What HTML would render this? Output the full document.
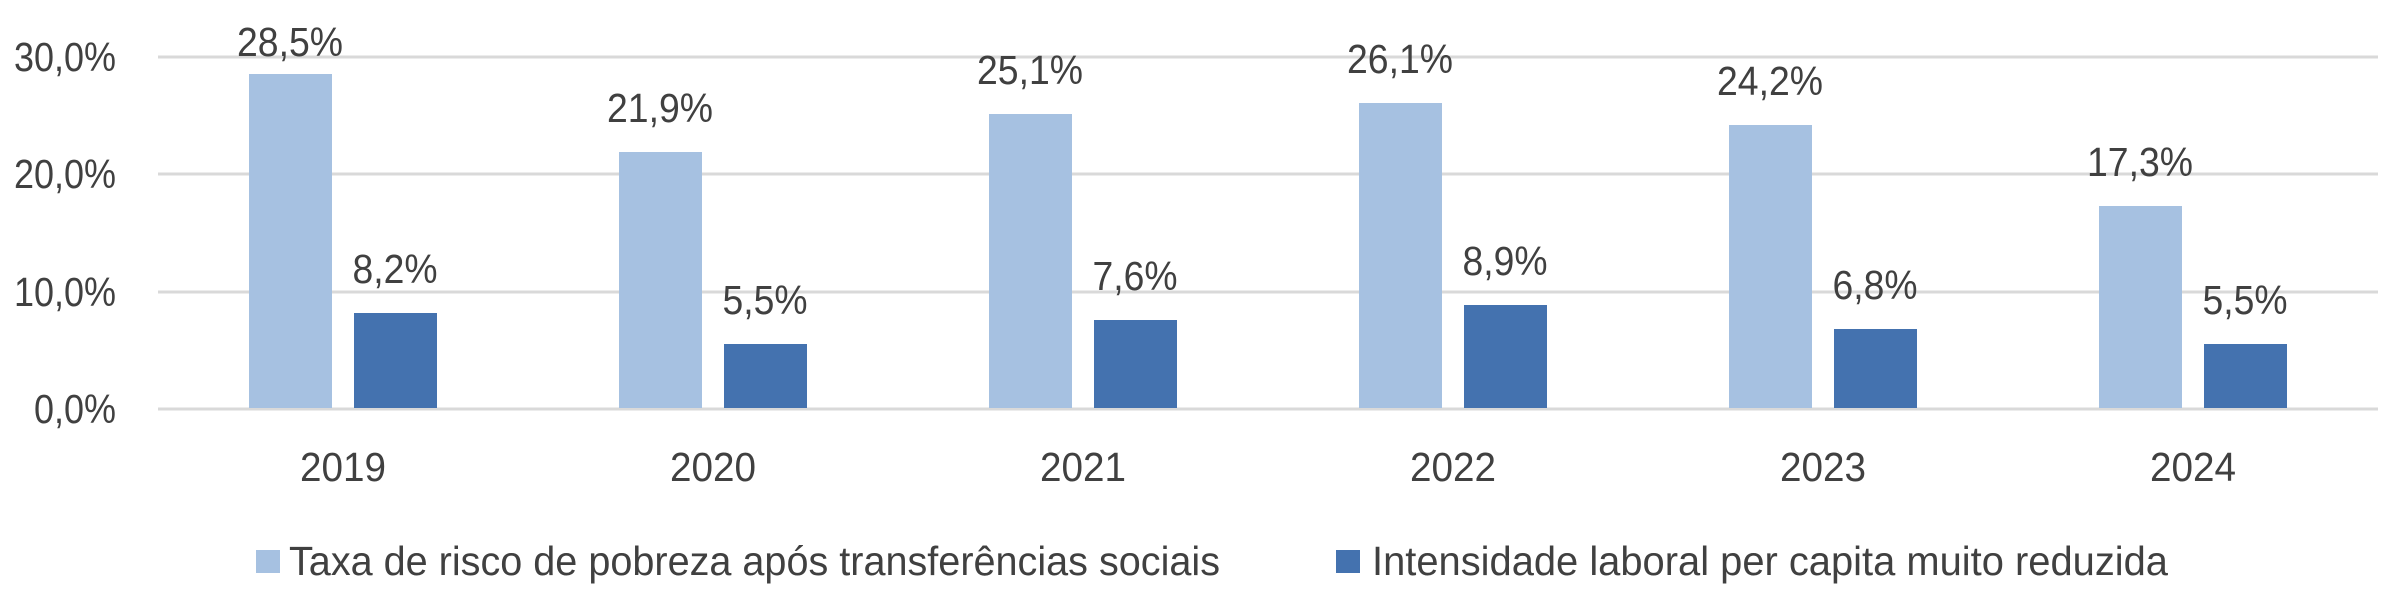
<!DOCTYPE html>
<html><head><meta charset="utf-8"><style>
html,body{margin:0;padding:0;background:#fff;}
svg{display:block;}
text{font-family:"Liberation Sans Narrow","Liberation Sans",sans-serif;fill:#404040;font-size:41px;}
</style></head><body>
<svg width="2400" height="600" viewBox="0 0 2400 600" xmlns="http://www.w3.org/2000/svg">
<g stroke="#D9D9D9" stroke-width="3">
<line x1="158" y1="57" x2="2378" y2="57"/>
<line x1="158" y1="174" x2="2378" y2="174"/>
<line x1="158" y1="292" x2="2378" y2="292"/>
<line x1="158" y1="409" x2="2378" y2="409"/>
</g>
<g text-anchor="end">
<text x="116" y="71" textLength="102" lengthAdjust="spacingAndGlyphs">30,0%</text>
<text x="116" y="188" textLength="102" lengthAdjust="spacingAndGlyphs">20,0%</text>
<text x="116" y="306" textLength="102" lengthAdjust="spacingAndGlyphs">10,0%</text>
<text x="116" y="423" textLength="82" lengthAdjust="spacingAndGlyphs">0,0%</text>
</g>
<g fill="#A6C1E1">
<rect x="249" y="74" width="83" height="334"/>
<rect x="619" y="152" width="83" height="256"/>
<rect x="989" y="114" width="83" height="294"/>
<rect x="1359" y="103" width="83" height="305"/>
<rect x="1729" y="125" width="83" height="283"/>
<rect x="2099" y="206" width="83" height="202"/>
</g>
<g fill="#4472AF">
<rect x="354" y="313" width="83" height="95"/>
<rect x="724" y="344" width="83" height="64"/>
<rect x="1094" y="320" width="83" height="88"/>
<rect x="1464" y="305" width="83" height="103"/>
<rect x="1834" y="329" width="83" height="79"/>
<rect x="2204" y="344" width="83" height="64"/>
</g>
<g text-anchor="middle">
<text x="290" y="56" textLength="106" lengthAdjust="spacingAndGlyphs">28,5%</text>
<text x="660" y="122" textLength="106" lengthAdjust="spacingAndGlyphs">21,9%</text>
<text x="1030" y="84" textLength="106" lengthAdjust="spacingAndGlyphs">25,1%</text>
<text x="1400" y="73" textLength="106" lengthAdjust="spacingAndGlyphs">26,1%</text>
<text x="1770" y="95" textLength="106" lengthAdjust="spacingAndGlyphs">24,2%</text>
<text x="2140" y="176" textLength="106" lengthAdjust="spacingAndGlyphs">17,3%</text>
<text x="395" y="283" textLength="85" lengthAdjust="spacingAndGlyphs">8,2%</text>
<text x="765" y="314" textLength="85" lengthAdjust="spacingAndGlyphs">5,5%</text>
<text x="1135" y="290" textLength="85" lengthAdjust="spacingAndGlyphs">7,6%</text>
<text x="1505" y="275" textLength="85" lengthAdjust="spacingAndGlyphs">8,9%</text>
<text x="1875" y="299" textLength="85" lengthAdjust="spacingAndGlyphs">6,8%</text>
<text x="2245" y="314" textLength="85" lengthAdjust="spacingAndGlyphs">5,5%</text>
</g>
<g text-anchor="middle">
<text x="343" y="481" textLength="86" lengthAdjust="spacingAndGlyphs">2019</text>
<text x="713" y="481" textLength="86" lengthAdjust="spacingAndGlyphs">2020</text>
<text x="1083" y="481" textLength="86" lengthAdjust="spacingAndGlyphs">2021</text>
<text x="1453" y="481" textLength="86" lengthAdjust="spacingAndGlyphs">2022</text>
<text x="1823" y="481" textLength="86" lengthAdjust="spacingAndGlyphs">2023</text>
<text x="2193" y="481" textLength="86" lengthAdjust="spacingAndGlyphs">2024</text>
</g>
<rect x="256" y="550" width="24" height="23" fill="#A6C1E1"/>
<text x="289" y="575" textLength="931" lengthAdjust="spacingAndGlyphs">Taxa de risco de pobreza após transferências sociais</text>
<rect x="1336" y="550" width="24" height="23" fill="#4472AF"/>
<text x="1372" y="575" textLength="796" lengthAdjust="spacingAndGlyphs">Intensidade laboral per capita muito reduzida</text>
</svg>
</body></html>
